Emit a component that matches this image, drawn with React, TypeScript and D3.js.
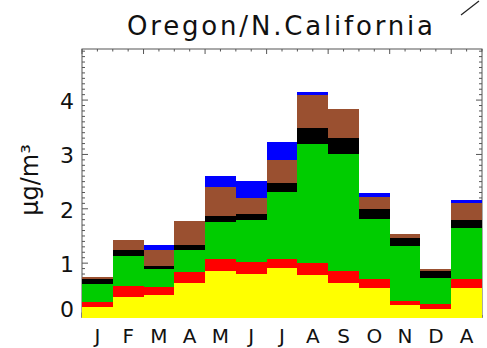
import React from "react";
import * as d3 from "d3";

const months = ["J", "F", "M", "A", "M", "J", "J", "A", "S", "O", "N", "D", "A"];
// stacked cumulative tops for each layer
const yellowTop = [0.19, 0.38, 0.42, 0.64, 0.86, 0.80, 0.91, 0.79, 0.64, 0.55, 0.23, 0.16, 0.55];
const redTop = [0.28, 0.575, 0.56, 0.83, 1.07, 1.02, 1.085, 1.0, 0.85, 0.715, 0.31, 0.255, 0.715];
const greenTop = [0.61, 1.13, 0.895, 1.25, 1.75, 1.80, 2.30, 3.20, 3.01, 1.81, 1.31, 0.735, 1.65];
const blackTop = [0.70, 1.24, 0.955, 1.34, 1.86, 1.91, 2.48, 3.49, 3.30, 2.00, 1.455, 0.85, 1.79];
const brownTop = [0.75, 1.42, 1.25, 1.78, 2.41, 2.20, 2.90, 4.09, 3.84, 2.22, 1.54, 0.895, 2.10];
const blueTop = [0.75, 1.42, 1.33, 1.78, 2.60, 2.51, 3.22, 4.14, 3.84, 2.29, 1.54, 0.895, 2.16];
const yTicks = [0, 1, 2, 3, 4];

const layers = [
  { name: "blue", top: blueTop, bottom: brownTop, color: "#0000FF" },
  { name: "brown", top: brownTop, bottom: blackTop, color: "#9A5030" },
  { name: "black", top: blackTop, bottom: greenTop, color: "#000000" },
  { name: "green", top: greenTop, bottom: redTop, color: "#00CC00" },
  { name: "red", top: redTop, bottom: yellowTop, color: "#FF0000" },
  { name: "yellow", top: yellowTop, bottom: yellowTop.map(() => 0), color: "#FFFF00" },
];

export default function App() {
  const W = 487, H = 348;
  const left = 82, right = 482, top = 49, bottom = 317.5;
  const x = d3.scaleLinear().domain([0, months.length]).range([left, right]);
  const y = d3.scaleLinear().domain([0, 4.94]).range([bottom, top]);

  const makeArea = (topV: number[], botV: number[]) => {
    const idx = d3.range(months.length + 1);
    const area = d3
      .area<number>()
      .x((i) => x(i))
      .y0((i) => y(botV[Math.min(i, months.length - 1)]))
      .y1((i) => y(topV[Math.min(i, months.length - 1)]))
      .curve(d3.curveStepAfter);
    return area(idx) || "";
  };

  const halfTicks = d3.range(0, months.length + 0.01, 0.5);
  const minorY = d3.range(0, 4.94, 0.1);
  const axisColor = "#555";

  return (
    <svg
      width={W}
      height={H}
      style={{ position: "absolute", left: 0, top: 0, background: "#fff" }}
      fontFamily="DejaVu Sans, sans-serif"
    >
      <rect x={0} y={0} width={W} height={H} fill="#fff" />
      <text x={280} y={35} fontSize={26} textAnchor="middle" textLength={306} lengthAdjust="spacing" fill="#111">
        Oregon/N.California
      </text>
      <line x1={461} y1={15} x2={479} y2={1} stroke="#222" strokeWidth={1.2} />

      {/* frame */}
      <rect x={left} y={top} width={right - left} height={bottom - top} fill="none" stroke={axisColor} strokeWidth={1} />
      {/* top & bottom ticks */}
      {halfTicks.map((t, i) => {
        const major = Math.abs(t % 2) < 1e-6;
        const len = major ? 5 : 2.5;
        return (
          <g key={"tx" + i}>
            <line x1={x(t)} x2={x(t)} y1={top} y2={top + len} stroke={axisColor} />
            <line x1={x(t)} x2={x(t)} y1={bottom} y2={bottom - len} stroke={axisColor} />
          </g>
        );
      })}
      {/* left & right ticks */}
      {minorY.map((v, i) => {
        const major = i % 10 === 0;
        const len = major ? 6 : 3;
        return (
          <g key={"ty" + i}>
            <line x1={left} x2={left + len} y1={y(v)} y2={y(v)} stroke={axisColor} />
            <line x1={right} x2={right - len} y1={y(v)} y2={y(v)} stroke={axisColor} />
          </g>
        );
      })}

      {/* stacked step areas */}
      {layers.map((l) => (
        <path key={l.name} d={makeArea(l.top, l.bottom)} fill={l.color} stroke="none" shapeRendering="crispEdges" />
      ))}

      {/* y tick labels */}
      {yTicks.map((v) => (
        <text
          key={"yl" + v}
          x={74}
          y={Math.min(y(v) + 9, bottom - 1)}
          fontSize={22}
          textAnchor="end"
          fill="#111"
        >
          {v}
        </text>
      ))}

      {/* month labels */}
      {months.map((m, i) => (
        <text key={"m" + i} x={x(i + 0.5)} y={343} fontSize={20} textAnchor="middle" fill="#111">
          {m}
        </text>
      ))}

      {/* y axis title */}
      <text
        transform={`translate(38,180) rotate(-90)`}
        fontSize={24}
        textAnchor="middle"
        fill="#111"
      >
        μg/m³
      </text>
    </svg>
  );
}
